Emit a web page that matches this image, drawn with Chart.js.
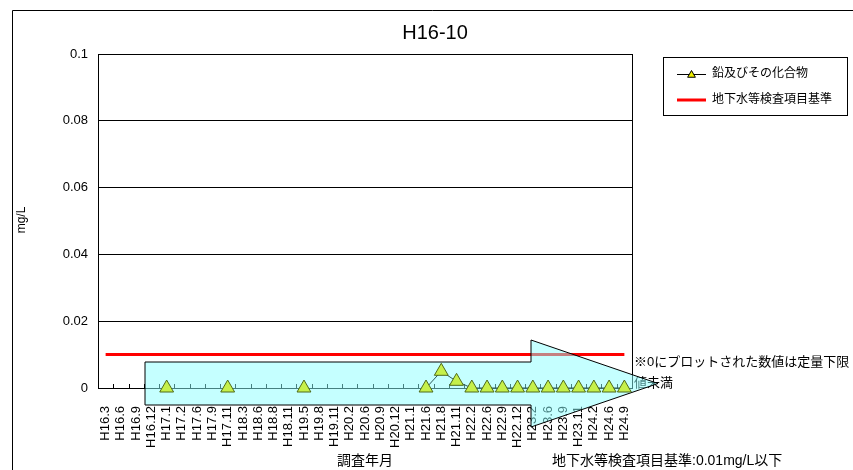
<!DOCTYPE html>
<html><head><meta charset="utf-8">
<script src="https://cdn.jsdelivr.net/npm/chart.js@4.4.1/dist/chart.umd.min.js"></script>
<style>html,body{margin:0;padding:0;background:#fff}#wrap{width:853px;height:470px;position:relative}</style>
</head><body><div id="wrap"><canvas id="c" width="853" height="470"></canvas></div>
<script>
const categories = ['H16.3','H16.6','H16.9','H16.12','H17.1','H17.2','H17.6','H17.9','H17.11','H18.3','H18.6','H18.8','H18.11','H19.5','H19.8','H19.11','H20.2','H20.6','H20.9','H20.12','H21.1','H21.6','H21.8','H21.11','H22.2','H22.6','H22.9','H22.12','H23.2','H23.6','H23.9','H23.11','H24.2','H24.6','H24.9'];
const leadValues = [null,null,null,null,0,null,null,null,0,null,null,null,null,0,null,null,null,null,null,null,null,0,0.005,0.002,0,0,0,0,0,0,0,0,0,0,0];
const standardLine = [0.01,0.01,0.01,0.01,0.01,0.01,0.01,0.01,0.01,0.01,0.01,0.01,0.01,0.01,0.01,0.01,0.01,0.01,0.01,0.01,0.01,0.01,0.01,0.01,0.01,0.01,0.01,0.01,0.01,0.01,0.01,0.01,0.01,0.01,0.01];
const yTicks = [0, 0.02, 0.04, 0.06, 0.08, 0.1];
const seriesNames = ['鉛及びその化合物', '地下水等検査項目基準'];
const chartTitle = 'H16-10';
const yTitle = 'mg/L';
const xTitle = '調査年月';
const noteLines = ['※0にプロットされた数値は定量下限', '値未満'];
const standardNote = '地下水等検査項目基準:0.01mg/L以下';

const FONT = "'Liberation Sans', 'Noto Sans CJK JP', sans-serif";
const TRI_FILL = '#C6F04A';
const TRI_BORDER = '#4F6B1A';

const decor = {
  id: 'decor',
  beforeDraw(chart) {
    const c = chart.ctx;
    c.save();
    c.fillStyle = '#fff';
    c.fillRect(0, 0, chart.width, chart.height);
    c.strokeStyle = '#000';
    c.lineWidth = 1;
    c.beginPath();
    c.moveTo(12.5, chart.height);
    c.lineTo(12.5, 10.5);
    c.lineTo(chart.width, 10.5);
    c.stroke();
    c.restore();
  },
  beforeDatasetsDraw(chart) {
    const c = chart.ctx, ca = chart.chartArea, x = chart.scales.x;
    c.save();
    c.strokeStyle = '#000';
    c.lineWidth = 1;
    c.strokeRect(Math.round(ca.left) + 0.5, Math.round(ca.top) + 0.5, Math.round(ca.right - ca.left), Math.round(ca.bottom - ca.top));
    const n = categories.length;
    const step = (ca.right - ca.left) / n;
    c.beginPath();
    for (let i = 1; i < n; i++) {
      const px = Math.round(x.getPixelForValue(i) - step / 2) + 0.5;
      c.moveTo(px, ca.bottom);
      c.lineTo(px, ca.bottom - 4);
    }
    c.stroke();
    c.fillStyle = '#000';
    c.font = '13px ' + FONT;
    c.textBaseline = 'middle';
    c.textAlign = 'left';
    c.fillText(noteLines[0], ca.right + 2, 362);
    c.fillText(noteLines[1], ca.right + 2, 383);
    c.restore();
  },
  afterDatasetDraw(chart, args) {
    if (args.index !== 1) return;
    const c = chart.ctx, ca = chart.chartArea;
    const l = ca.left + 47, bx = ca.left + 433, tip = ca.right + 26;
    const cy = ca.bottom - 4.5;
    c.save();
    c.beginPath();
    c.moveTo(l, cy - 21.5);
    c.lineTo(bx, cy - 21.5);
    c.lineTo(bx, cy - 43.5);
    c.lineTo(tip, cy);
    c.lineTo(bx, cy + 43.5);
    c.lineTo(bx, cy + 21.5);
    c.lineTo(l, cy + 21.5);
    c.closePath();
    c.fillStyle = 'rgba(140,255,255,0.5)';
    c.fill();
    c.strokeStyle = '#000';
    c.lineWidth = 1;
    c.stroke();
    c.restore();
  },
  afterDraw(chart) {
    const c = chart.ctx, ca = chart.chartArea;
    c.save();
    c.fillStyle = '#000';
    c.textBaseline = 'middle';
    c.textAlign = 'center';
    c.font = '20px ' + FONT;
    c.fillText(chartTitle, 435, 33);
    c.font = '14px ' + FONT;
    c.fillText(xTitle, (ca.left + ca.right) / 2, 461);
    c.textAlign = 'left';
    c.fillText(standardNote, 552, 461);
    c.save();
    c.translate(22, 220);
    c.rotate(-Math.PI / 2);
    c.textAlign = 'center';
    c.font = '12px ' + FONT;
    c.fillText(yTitle, 0, 0);
    c.restore();
    c.strokeStyle = '#000';
    c.lineWidth = 1;
    c.strokeRect(663.5, 57.5, 184, 58);
    c.beginPath();
    c.moveTo(677, 74.5); c.lineTo(706, 74.5);
    c.stroke();
    c.beginPath();
    const r = 4.5, tx = 691.5, ty = 75;
    c.moveTo(tx, ty - r);
    c.lineTo(tx + r * 0.866, ty + r / 2);
    c.lineTo(tx - r * 0.866, ty + r / 2);
    c.closePath();
    c.fillStyle = '#EEEE00';
    c.fill();
    c.stroke();
    c.strokeStyle = '#FF0000';
    c.lineWidth = 3;
    c.beginPath();
    c.moveTo(677, 100); c.lineTo(706, 100);
    c.stroke();
    c.fillStyle = '#000';
    c.font = '12px ' + FONT;
    c.fillText(seriesNames[0], 712, 74);
    c.fillText(seriesNames[1], 712, 100);
    c.restore();
  }
};

new Chart(document.getElementById('c'), {
  type: 'line',
  data: {
    labels: categories,
    datasets: [
      { label: seriesNames[0], data: leadValues, borderColor: '#2F5A5A', borderWidth: 1,
        pointStyle: 'triangle', pointRadius: 8, pointBackgroundColor: TRI_FILL,
        pointBorderColor: TRI_BORDER, pointBorderWidth: 1, spanGaps: false, clip: false, order: 0 },
      { label: seriesNames[1], data: standardLine, borderColor: '#FF0000', borderWidth: 3,
        pointRadius: 0, order: 1 }
    ]
  },
  options: {
    responsive: false,
    animation: false,
    layout: { padding: { left: 0, right: 221, top: 54, bottom: 0 } },
    plugins: { legend: { display: false }, tooltip: { enabled: false } },
    scales: {
      x: {
        offset: true,
        grid: { display: false },
        border: { display: false },
        ticks: { autoSkip: false, minRotation: 90, maxRotation: 90, padding: 10,
          color: '#000', font: { family: FONT, size: 13 } },
        afterFit(s) { s.height = 82; }
      },
      y: {
        min: 0, max: 0.1,
        afterBuildTicks(s) { s.ticks = yTicks.map(v => ({ value: v })); },
        ticks: { padding: 10, color: '#000', font: { family: FONT, size: 13 },
          callback: v => String(Number(v.toFixed(2))) },
        grid: { color: '#000', lineWidth: 1, drawTicks: false },
        border: { display: false },
        afterFit(s) { s.width = 98; }
      }
    }
  },
  plugins: [decor]
});
</script>
</body></html>
